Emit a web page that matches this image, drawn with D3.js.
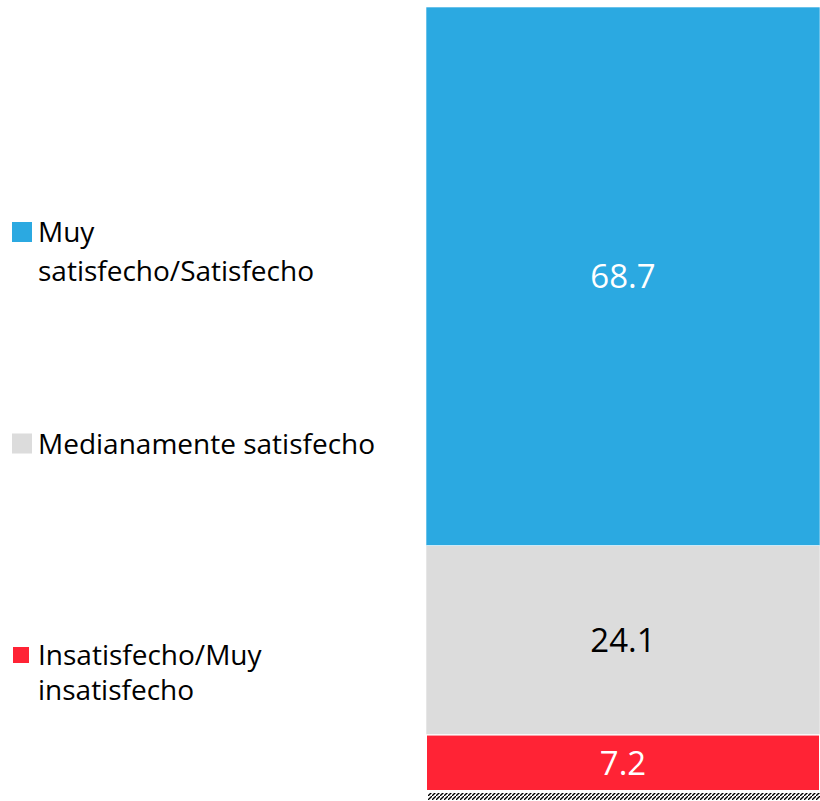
<!DOCTYPE html>
<html>
<head>
<meta charset="utf-8">
<script src="https://cdn.jsdelivr.net/npm/d3@7"></script>
<style>
  html, body { margin: 0; padding: 0; background: #fff; }
  svg { display: block; }
  text { font-family: "Open Sans", Lato, sans-serif; }
</style>
</head>
<body>
<svg id="chart" width="820" height="801"></svg>
<script>
// Satisfaction shares (%), stacked bottom to top
const categories = ["Insatisfecho/Muy insatisfecho", "Medianamente satisfecho", "Muy satisfecho/Satisfecho"];
const values = [7.2, 24.1, 68.7];
const colors = ["#FF2335", "#DCDCDC", "#2BA9E1"];
const labelColors = ["#ffffff", "#000000", "#ffffff"];
// Legend order, top to bottom, with line breaks
const legendOrder = [2, 1, 0];
const legendLines = [["Insatisfecho/Muy", "insatisfecho"], ["Medianamente satisfecho"], ["Muy", "satisfecho/Satisfecho"]];

(function draw() {
  const svg = d3.select("#chart");
  const barLeft = 426, barRight = 820;
  const plotTop = 7, plotBottom = 791;
  const valueSize = 33, legendSize = 28;

  const y = d3.scaleLinear().domain([0, 100]).range([plotBottom, plotTop]);

  // Stack the values
  let acc = 0;
  const segs = values.map((v, i) => {
    const s = { i, v, y0: acc, y1: acc + v };
    acc += v;
    return s;
  });

  const g = svg.append("g");
  g.selectAll("rect.seg").data(segs).join("rect")
    .attr("class", "seg")
    .attr("x", barLeft)
    .attr("width", barRight - barLeft)
    .attr("y", d => y(d.y1))
    .attr("height", d => y(d.y0) - y(d.y1))
    .attr("fill", d => colors[d.i])
    .attr("stroke", "#fff")
    .attr("stroke-width", d => d.i === 0 ? 2 : 0.6);

  // Value labels, centred in each segment (digit height ~0.714em)
  g.selectAll("text.val").data(segs).join("text")
    .attr("class", "val")
    .attr("x", (barLeft + barRight) / 2)
    .attr("y", d => (y(d.y0) + y(d.y1)) / 2 + valueSize * 0.357)
    .attr("text-anchor", "middle")
    .attr("font-size", valueSize)
    .attr("fill", d => labelColors[d.i])
    .text(d => d.v.toFixed(1));

  // Hatched baseline
  const defs = svg.append("defs");
  const pat = defs.append("pattern")
    .attr("id", "hatch")
    .attr("patternUnits", "userSpaceOnUse")
    .attr("width", 4).attr("height", 4);
  pat.append("path").attr("d", "M0,4 L4,0").attr("stroke", "#000").attr("stroke-width", 1.3);
  svg.append("rect")
    .attr("x", barLeft + 2).attr("y", plotBottom + 2)
    .attr("width", barRight - barLeft - 2).attr("height", 7)
    .attr("fill", "url(#hatch)");

  // Legend
  const ly = d3.scalePoint().domain(legendOrder).range([232, 655]);
  const leg = svg.append("g");
  legendOrder.forEach(idx => {
    const cy = ly(idx);
    const sz = idx === 0 ? 16 : 20;
    leg.append("rect")
      .attr("x", idx === 0 ? 13 : 12)
      .attr("y", cy - sz / 2)
      .attr("width", sz).attr("height", sz)
      .attr("fill", colors[idx]);
    const t = leg.append("text")
      .attr("x", 38)
      .attr("y", cy + 10)
      .attr("font-size", legendSize)
      .attr("fill", "#000");
    legendLines[idx].forEach((ln, k) => {
      t.append("tspan").attr("x", 38).attr("dy", k === 0 ? 0 : (idx === 0 ? 35 : 38.5)).text(ln);
    });
  });
})();
</script>
</body>
</html>
